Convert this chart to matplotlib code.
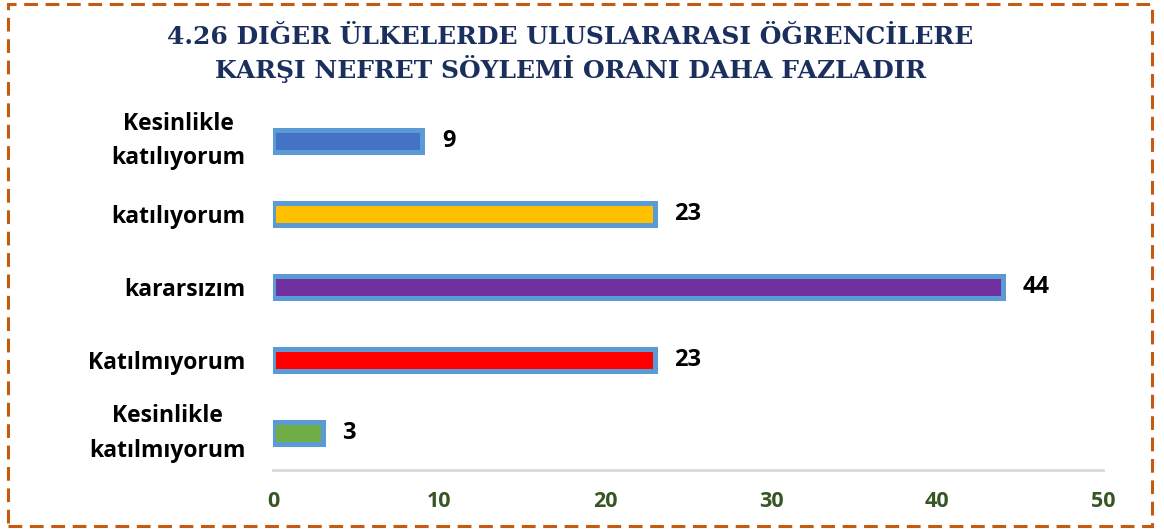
import matplotlib.pyplot as plt
import matplotlib.patches as mpatches

categories = ['Kesinlikle\nkatılıyorum', 'katılıyorum', 'kararsızım', 'Katılmıyorum', 'Kesinlikle\nkatılmıyorum']
values = [9, 23, 44, 23, 3]
bar_colors = ['#4472C4', '#FFC000', '#7030A0', '#FF0000', '#70AD47']
ticks = [0, 10, 20, 30, 40, 50]
title = '4.26 DIĞER ÜLKELERDE ULUSLARARASI ÖĞRENCİLERE\nKARŞI NEFRET SÖYLEMİ ORANI DAHA FAZLADIR'

fig = plt.figure(figsize=(11.64, 5.29), dpi=100)
ax = fig.add_axes([0.2345, 0.1115, 0.7131, 0.691])

ypos = list(range(len(categories)))
ax.barh(ypos, values, height=0.30, color=bar_colors, edgecolor='#5B9BD5', linewidth=3.6)
ax.set_ylim(len(categories) - 0.5, -0.5)
ax.set_xlim(0, 50)

for y, v in zip(ypos, values):
    ax.annotate(str(v), (v, y), xytext=(14, 0), textcoords='offset points',
                ha='left', va='center', fontsize=17, fontweight='bold', family='Open Sans')

ax.set_yticks(ypos)
ax.set_yticklabels(categories, fontsize=16.5, fontweight='bold', family='Open Sans',
                   multialignment='center', linespacing=1.6)
# two-line labels centred on the bar, one-line labels on the baseline centre
for lab in ax.get_yticklabels():
    if '\n' in lab.get_text():
        lab.set_verticalalignment('center')
ax.set_xticks(ticks)
ax.set_xticklabels([str(t) for t in ticks], fontsize=15.5, fontweight='bold', family='Open Sans', color='#375623')
ax.tick_params(axis='both', length=0)
ax.tick_params(axis='x', pad=15)
ax.tick_params(axis='y', pad=20)

for s in ['top', 'right', 'left']:
    ax.spines[s].set_visible(False)
ax.spines['bottom'].set_color('#D9D9D9')
ax.spines['bottom'].set_linewidth(2)

fig.text(0.49, 0.898, title, ha='center', va='center', fontsize=18, fontweight='bold',
         family='DejaVu Serif', color='#1B2F5E', linespacing=1.25)

border = mpatches.Rectangle((0.0069, 0.0057), 0.9828, 0.9867, transform=fig.transFigure,
                            fill=False, edgecolor='#C55A11', linewidth=2.2, linestyle=(0, (4.5, 2.5)))
fig.patches.append(border)

fig.savefig('out.png', dpi=100)
